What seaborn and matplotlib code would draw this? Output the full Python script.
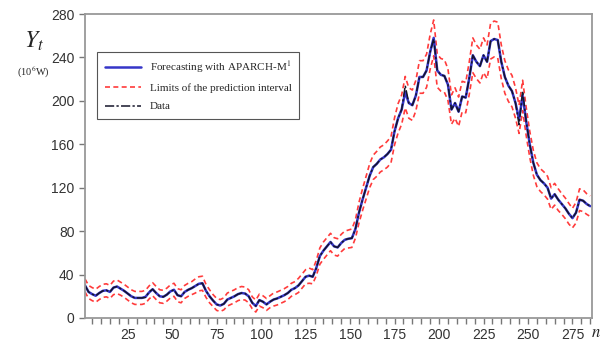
import numpy as np
import matplotlib
matplotlib.use("Agg")
import matplotlib.pyplot as plt
import seaborn as sns
from matplotlib.ticker import MultipleLocator

# observation index n = 1, 3, 5, ..., 285
n = np.arange(1, 286, 2)

data = [30, 24, 22, 20.5, 23, 25, 25.5, 24, 28, 29,
        27, 25, 22.5, 20, 18.5, 18.5, 18.5, 19, 24, 26.5,
        23, 20, 19.5, 21.5, 24.5, 26, 21, 20, 24, 26,
        27.5, 29.5, 31.5, 32, 25, 20, 16, 12.5, 11.5, 13,
        17, 18.5, 20, 22, 23, 22.5, 20, 14, 11, 16.5,
        15, 12.5, 15, 17, 18, 19.5, 21, 23, 26, 27.5,
        30, 34, 38, 39, 38, 46, 57, 62, 66, 70,
        66, 65, 69, 72, 73, 73.5, 82, 97, 109, 120,
        131, 139, 142, 146, 148, 151, 155, 172, 184, 192,
        214, 198, 196, 205, 222, 222, 228, 245, 257, 228,
        224, 223, 215, 192, 198, 190, 204, 203, 221, 242,
        236, 232, 242, 236, 255, 257, 256, 236, 222, 214,
        209, 198, 178, 209, 181, 160, 143, 132, 127, 124,
        120, 110, 114, 109, 105, 101, 96, 92, 97, 109,
        108, 105, 103]

forecast = [30, 24, 22, 20.5, 23, 25, 25.5, 24, 28, 29,
            27, 25, 22.5, 20, 18.5, 18.5, 18.5, 19.5, 23.5, 26.5,
            23, 20, 19.5, 21.5, 24.5, 26, 21, 20, 24, 26,
            27.5, 29.5, 31.5, 32, 25, 20, 16, 12.5, 11.5, 13,
            17, 18.5, 20, 22, 23, 22.5, 20, 14, 11, 16.5,
            15, 12.5, 15, 17, 18, 19.5, 21, 23, 26, 27.5,
            30, 34, 38, 39, 38, 46, 57, 62, 66, 70,
            66, 65, 69, 72, 73, 73.5, 82, 97, 109, 120,
            131, 139, 142, 146, 148, 151, 155, 172, 184, 192,
            208, 198, 196, 205, 222, 222, 228, 245, 258, 228,
            224, 223, 215, 192, 198, 190, 204, 203, 221, 242,
            236, 232, 242, 236, 255, 257, 256, 236, 222, 214,
            209, 198, 183, 205, 181, 160, 143, 132, 127, 124,
            120, 110, 114, 109, 105, 101, 96, 92, 97, 109,
            108, 105, 103]

upper = [36, 30, 28, 26.5, 29, 31, 31.5, 30, 34, 35,
         33, 31, 28.5, 26, 24.5, 24.5, 24.5, 25.5, 29.5, 32.5,
         29, 26, 25.5, 27.5, 30.5, 32, 27, 26, 30, 32,
         33.5, 36, 38, 38.5, 31, 26, 21.5, 18, 17, 18.5,
         23, 24.5, 26, 28, 29, 28.5, 26, 19.5, 16.5, 22,
         20.5, 18, 20.5, 23, 24, 25.5, 27, 29, 32, 33.5,
         36.5, 40.5, 44.5, 46, 44.5, 53, 64.5, 70, 74, 78,
         74, 73, 77, 80, 81, 82, 90.5, 106.5, 119, 130.5,
         142, 150, 153.5, 157.5, 159.5, 163, 167, 184.5, 197.5, 205.5,
         222.5, 212, 210, 219, 237, 237, 243, 261, 274.5, 243,
         239, 238, 229.5, 205.5, 212, 203.5, 218, 217, 236, 258,
         251.5, 247.5, 258, 251.5, 271.5, 273.5, 272.5, 251.5, 237, 228.5,
         223.5, 212, 196, 219, 194, 172, 154.5, 143, 137.5, 134.5,
         130.5, 120, 124, 119, 114.5, 110.5, 105.5, 101, 106.5, 119,
         118, 114.5, 112.5]

lower = [24, 18, 16, 14.5, 17, 19, 19.5, 18, 21.5, 22.5,
         21, 19, 16.5, 14, 12.5, 12.5, 12.5, 13.5, 17.5, 20.5,
         17, 14, 13.5, 15.5, 18.5, 20, 15, 14, 18, 20,
         21.5, 23, 25, 25.5, 19, 14, 10.5, 7, 6, 7.5,
         11, 12.5, 14, 16, 17, 16.5, 14, 8.5, 5.5, 11,
         9.5, 7, 9.5, 11, 12, 13.5, 15, 17, 20, 21.5,
         23.5, 27.5, 31.5, 32, 31.5, 39, 49.5, 54, 58, 62,
         58, 57, 61, 64, 64.5, 65, 73.5, 87.5, 99, 109.5,
         120, 127.5, 130.5, 134.5, 136.5, 139, 143, 159.5, 170.5, 178.5,
         193.5, 184, 182, 191, 207, 207, 212.5, 229, 241.5, 212.5,
         209, 208, 200.5, 178.5, 184, 176.5, 190, 189, 206, 226,
         220.5, 216.5, 226, 220.5, 238.5, 240.5, 239.5, 220.5, 207, 199.5,
         194.5, 184, 170, 191, 168, 148, 131.5, 121, 116.5, 113.5,
         109.5, 100, 104, 99, 95.5, 91.5, 86.5, 83, 87.5, 99,
         98, 95.5, 93.5]

sns.set_theme(style="ticks")
plt.rcParams["font.family"] = ["Liberation Sans", "DejaVu Sans"]
plt.rcParams["mathtext.fontset"] = "stix"

fig = plt.figure(figsize=(6, 3.44), dpi=100)
ax = fig.add_axes([0.1417, 0.0756, 0.845, 0.8837])

red = "#ff3b3b"
sns.lineplot(x=n, y=upper, ax=ax, color=red, lw=1.2,
             label="Limits of the prediction interval")
sns.lineplot(x=n, y=lower, ax=ax, color=red, lw=1.2)
sns.lineplot(x=n, y=forecast, ax=ax, color="#3535c8", lw=1.8,
             label="Forecasting with APARCH-M$^{1}$")
sns.lineplot(x=n, y=data, ax=ax, color="#15152a", lw=1.1, label="Data")

lines = ax.get_lines()
lines[0].set_linestyle((0, (3, 2)))
lines[1].set_linestyle((0, (3, 2)))
lines[3].set_linestyle((0, (6, 1.5, 1.5, 1.5)))

ax.set_xlim(1, 286)
ax.set_ylim(0, 280)
ax.xaxis.set_minor_locator(MultipleLocator(5))
ax.yaxis.set_major_locator(MultipleLocator(40))
ax.set_xticks([25, 50, 75, 100, 125, 150, 175, 200, 225, 250, 275])
ax.tick_params(axis="both", which="major", labelsize=10, labelcolor="#333333",
               color="#777777", length=4, width=1)
ax.tick_params(axis="x", which="minor", color="#777777", length=4, width=1)
for s in ax.spines.values():
    s.set_color("#999999")
    s.set_linewidth(1.3)
ax.set_xlabel("")
ax.set_ylabel("")

h, l = ax.get_legend_handles_labels()
order = [1, 0, 2]
leg = ax.legend([h[i] for i in order], [l[i] for i in order],
                loc="upper left", bbox_to_anchor=(0.153, 0.866),
                bbox_transform=fig.transFigure, fancybox=False,
                edgecolor="#555555", framealpha=1, handlelength=3.2,
                borderpad=0.7, labelspacing=0.75,
                prop={"family": "Liberation Serif", "size": 8})
leg.get_frame().set_linewidth(0.8)

fig.text(0.057, 0.88, "$Y_t$", fontsize=17, ha="center", va="center")
fig.text(0.056, 0.79, "(10$^6$W)", fontsize=7.5, ha="center", va="center",
         family="Liberation Serif")
fig.text(0.993, 0.032, "$n$", fontsize=12, ha="center", va="center")

fig.savefig("out.png", dpi=100)
